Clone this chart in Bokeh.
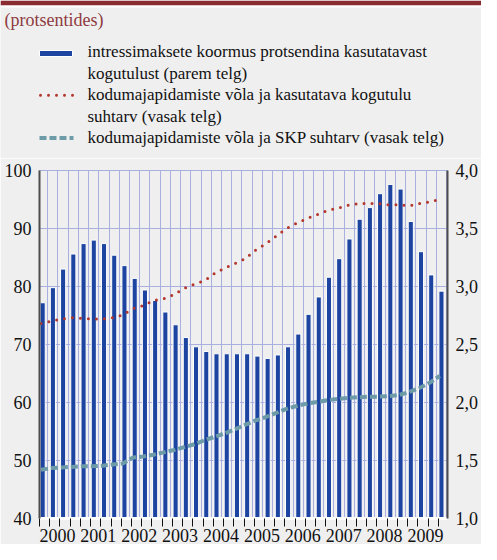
from bokeh.plotting import figure
from bokeh.layouts import column
from bokeh.models import Range1d, LinearAxis, FixedTicker, CustomJSTickFormatter
from bokeh.embed import file_html
from bokeh.resources import INLINE
from bokeh.core.properties import value

# ---------------- data ----------------
years = ["2000", "2001", "2002", "2003", "2004", "2005", "2006", "2007", "2008", "2009"]
quarters = list(range(40))  # quarter index 0..39 (2000Q1 .. 2009Q4)

# interest burden, % of disposable income (right axis)
burden = [2.86, 2.99, 3.15, 3.28, 3.37, 3.40, 3.37, 3.27, 3.18, 3.07,
          2.97, 2.88, 2.78, 2.67, 2.56, 2.48, 2.44, 2.42, 2.42, 2.42,
          2.42, 2.40, 2.38, 2.41, 2.48, 2.59, 2.76, 2.91, 3.08, 3.24,
          3.41, 3.58, 3.68, 3.80, 3.88, 3.84, 3.56, 3.30, 3.10, 2.96]

# household debt to disposable income (left axis)
debt_income = [73.6, 74.0, 74.4, 74.6, 74.5, 74.4, 74.4, 74.6, 75.1, 76.2,
               76.7, 77.6, 77.9, 78.6, 79.7, 80.4, 81.0, 82.3, 83.2, 84.0,
               84.8, 86.3, 87.4, 88.7, 90.0, 90.9, 91.7, 92.4, 93.1, 93.5,
               94.0, 94.3, 94.3, 94.3, 94.1, 94.1, 93.9, 94.3, 94.6, 95.0]

# household debt to GDP (left axis)
debt_gdp = [48.4, 48.7, 48.8, 48.9, 49.0, 49.0, 49.1, 49.3, 49.5, 50.5,
            50.7, 51.0, 51.4, 51.8, 52.3, 52.8, 53.5, 54.1, 54.7, 55.4,
            56.2, 56.9, 57.5, 58.2, 58.9, 59.4, 59.8, 60.1, 60.4, 60.6,
            60.8, 60.9, 61.0, 61.0, 61.1, 61.3, 61.8, 62.5, 63.4, 64.6]

left_ticks = [40, 50, 60, 70, 80, 90, 100]
right_ticks = [1.0, 1.5, 2.0, 2.5, 3.0, 3.5, 4.0]

title_text = "(protsentides)"
legend_lines = [
    "intressimaksete koormus protsendina kasutatavast",
    "kogutulust (parem telg)",
    "kodumajapidamiste võla ja kasutatava kogutulu",
    "suhtarv (vasak telg)",
    "kodumajapidamiste võla ja SKP suhtarv (vasak telg)",
]

# ---------------- styling ----------------
BG = "#efefef"
GRID = "#a9afdf"
BAR = "#1c44a0"
RED = "#b3372c"
TEAL = "#6d9ba8"
MAROON = "#8a2b32"
FONT = "Liberation Serif"
RED_DASH = "0 8"
TEAL_DASH = "7 3"
W = 481
HEAD_H = 158
MAIN_H = 544 - HEAD_H

# ---------------- header: stripe, title, legend (screen-pixel coordinates) ----------------
head = figure(width=W, height=HEAD_H, output_backend="svg", toolbar_location=None,
              x_range=Range1d(0, W), y_range=Range1d(HEAD_H, 0),
              x_axis_location=None, y_axis_location=None, min_border=0,
              background_fill_color=BG, border_fill_color=BG, outline_line_color=None)
head.frame_align = False
head.grid.visible = False
head.quad(left=[0], right=[W], top=[0], bottom=[5], fill_color=MAROON, line_color=None)
head.quad(left=[0], right=[W], top=[5], bottom=[7], fill_color="white", line_color=None)
head.text(x=[4], y=[19], text=[title_text], text_font=value(FONT), text_font_size="18px",
          text_color="#8e3b40", text_baseline="middle")

# legend
LX, LY, LSTEP = 39, 51, 21.6
line_y = [LY + LSTEP * i for i in range(len(legend_lines))]
head.text(x=[87] * len(legend_lines), y=line_y, text=legend_lines,
          text_font=value(FONT), text_font_size="17px", text_color="#111111",
          text_baseline="middle")
head.quad(left=[LX], right=[LX + 33], top=[line_y[0] - 1], bottom=[line_y[0] + 5],
          fill_color=BAR, line_color="white", line_width=1)
head.line(x=[LX + 1, LX + 34], y=[line_y[2] + 0.5] * 2, line_color=RED, line_width=3,
          line_dash=RED_DASH, line_cap="round")
head.line(x=[LX, LX + 34], y=[line_y[4]] * 2, line_color=TEAL, line_width=4,
          line_dash=TEAL_DASH)

# ---------------- main chart ----------------
p = figure(width=W, height=MAIN_H, output_backend="svg", toolbar_location=None,
           x_range=Range1d(0, 39.9), y_range=Range1d(40, 100),
           min_border_left=39, min_border_right=30, min_border_top=12, min_border_bottom=26,
           background_fill_color=BG, border_fill_color=BG)
p.frame_align = False
p.extra_y_ranges = {"right": Range1d(1.0, 4.0)}
p.outline_line_color = GRID

bar_x = [q + 0.31 for q in quarters]
line_x = [q + 0.15 for q in quarters]

p.vbar(x=bar_x, top=burden, bottom=right_ticks[0], width=0.5, y_range_name="right",
       fill_color=BAR, line_color="white", line_width=1)
p.line(x=line_x, y=debt_income, line_color=RED, line_width=3, line_dash=RED_DASH,
       line_cap="round")
p.line(x=line_x, y=debt_gdp, line_color=TEAL, line_width=4, line_dash=TEAL_DASH)

# grids
p.ygrid.ticker = FixedTicker(ticks=left_ticks[1:-1])
p.ygrid.grid_line_color = GRID
p.xgrid.ticker = FixedTicker(ticks=[q + 0.8 for q in quarters])
p.xgrid.grid_line_color = GRID

# x axis 1: quarter tick marks
xa = p.xaxis[0]
xa.ticker = FixedTicker(ticks=list(range(41)))
xa.formatter = CustomJSTickFormatter(code="return ''")
xa.major_tick_out = 8
xa.major_tick_in = 0
xa.major_tick_line_color = "#111111"
xa.minor_tick_out = 0
xa.axis_line_color = "white"
xa.axis_line_width = 3
xa.major_label_standoff = 0
xa.major_label_text_font_size = "1px"

# x axis 2: year labels centred on each year
xl = LinearAxis(ticker=FixedTicker(ticks=[4 * i + 1.75 for i in range(len(years))]),
                formatter=CustomJSTickFormatter(args=dict(labels=years),
                                                code="return labels[Math.round((tick - 1.75) / 4)]"))
xl.axis_line_color = None
xl.major_tick_out = 0
xl.major_tick_in = 0
xl.minor_tick_out = 0
xl.major_label_standoff = 2
xl.major_label_text_font = FONT
xl.major_label_text_font_size = "18px"
xl.major_label_text_color = "#111111"
p.add_layout(xl, "below")

# left axis
ya = p.yaxis[0]
ya.ticker = FixedTicker(ticks=left_ticks)
ya.major_tick_out = 0
ya.major_tick_in = 0
ya.minor_tick_out = 0
ya.axis_line_color = "#4d4d4d"
ya.axis_line_width = 2
ya.major_label_standoff = 8
ya.major_label_text_font = FONT
ya.major_label_text_font_size = "18px"
ya.major_label_text_color = "#111111"

# right axis
ra = LinearAxis(y_range_name="right", ticker=FixedTicker(ticks=right_ticks),
                formatter=CustomJSTickFormatter(code="return tick.toFixed(1).replace('.', ',')"))
ra.major_tick_out = 0
ra.major_tick_in = 0
ra.minor_tick_out = 0
ra.axis_line_color = "#4d4d4d"
ra.axis_line_width = 2
ra.major_label_standoff = 8
ra.major_label_text_font = FONT
ra.major_label_text_font_size = "18px"
ra.major_label_text_color = "#111111"
p.add_layout(ra, "right")

page = column(head, p, spacing=0)
open("out.html", "w").write(file_html(page, INLINE))
